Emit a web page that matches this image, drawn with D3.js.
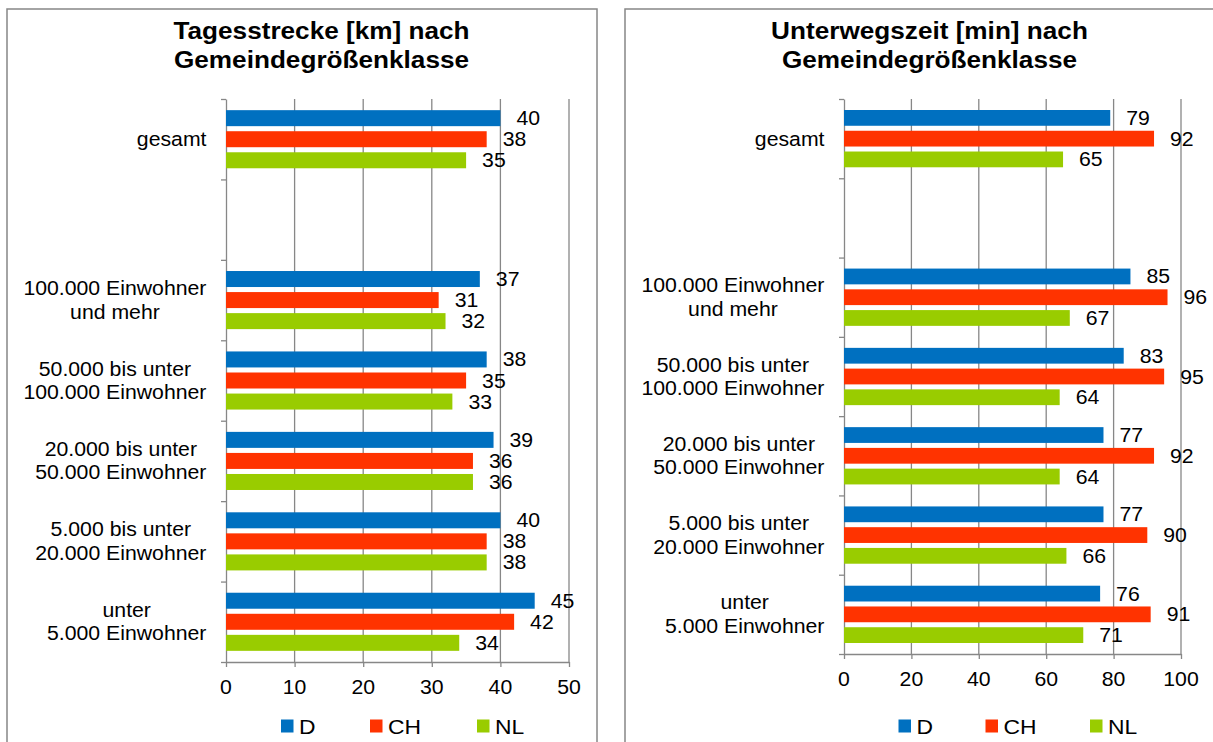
<!DOCTYPE html>
<html>
<head>
<meta charset="utf-8">
<script src="https://cdn.jsdelivr.net/npm/d3@7"></script>
<style>
  html, body { margin: 0; padding: 0; background: #fff; }
  svg { display: block; }
  text { font-family: "Liberation Sans", Arial, sans-serif; fill: #000; }
</style>
</head>
<body>
<svg id="chart" width="1213" height="742"></svg>
<script>
// Category labels (one entry per band, lines listed separately; second band is an empty spacer)
const categories = [
  ["gesamt"],
  [],
  ["100.000 Einwohner", "und mehr"],
  ["50.000 bis unter", "100.000 Einwohner"],
  ["20.000 bis unter", "50.000 Einwohner"],
  ["5.000 bis unter", "20.000 Einwohner"],
  ["unter", "5.000 Einwohner"]
];
const series = ["D", "CH", "NL"];
const seriesColors = ["#0070C0", "#FF3300", "#99CC00"];

// Tagesstrecke [km]
const kmD  = [40, null, 37, 38, 39, 40, 45];
const kmCH = [38, null, 31, 35, 36, 38, 42];
const kmNL = [35, null, 32, 33, 36, 38, 34];
const kmTicks = [0, 10, 20, 30, 40, 50];

// Unterwegszeit [min]
const minD  = [79, null, 85, 83, 77, 77, 76];
const minCH = [92, null, 96, 95, 92, 90, 91];
const minNL = [65, null, 67, 64, 64, 66, 71];
const minTicks = [0, 20, 40, 60, 80, 100];

const panels = [
  {
    frameX: 7, title: ["Tagesstrecke [km] nach", "Gemeindegrößenklasse"], titleX: 321.5,
    x0: 226, x1: 569, y0: 99, y1: 662, ticks: kmTicks, values: [kmD, kmCH, kmNL],
    legendX: [281, 370, 477], frameW: 590
  },
  {
    frameX: 625, title: ["Unterwegszeit [min] nach", "Gemeindegrößenklasse"], titleX: 929.5,
    x0: 844, x1: 1181, y0: 99, y1: 654, ticks: minTicks, values: [minD, minCH, minNL],
    legendX: [898.5, 985.5, 1090], frameW: 700
  }
];

const GRAY = "#878787";
const SX = 1.09;          // horizontal text stretch
const FONT = 19.5;

const svg = d3.select("#chart");

function place(sel, x, y) {
  return sel.attr("transform", `translate(${x},${y}) scale(${SX},1)`);
}

panels.forEach(p => {
  const g = svg.append("g");

  // frame
  g.append("rect")
    .attr("x", p.frameX).attr("y", 9)
    .attr("width", p.frameW).attr("height", 800)
    .attr("fill", "none").attr("stroke", GRAY).attr("stroke-width", 1.5);

  // title
  p.title.forEach((line, i) => {
    place(g.append("text"), p.titleX, 39 + i * 29)
      .attr("text-anchor", "middle")
      .attr("font-size", 24).attr("font-weight", "bold")
      .text(line);
  });

  const x = d3.scaleLinear().domain([p.ticks[0], p.ticks[p.ticks.length - 1]]).range([p.x0, p.x1]);
  const y = d3.scaleBand().domain(d3.range(categories.length)).range([p.y0, p.y1]);
  const yInner = d3.scaleBand().domain(series).range([0, y.bandwidth()])
    .paddingInner(0.24).paddingOuter(0.53);

  // vertical gridlines
  g.append("g").selectAll("line")
    .data(p.ticks.slice(1))
    .join("line")
    .attr("x1", d => x(d)).attr("x2", d => x(d))
    .attr("y1", p.y0).attr("y2", p.y1)
    .attr("stroke", GRAY).attr("stroke-width", 1.3);

  // bottom axis
  const xAxis = g.append("g")
    .attr("transform", `translate(0,${p.y1})`)
    .call(d3.axisBottom(x).tickValues(p.ticks).tickSize(5).tickSizeOuter(0).tickFormat(""));
  xAxis.selectAll("path, line").attr("stroke", GRAY).attr("stroke-width", 1.3);

  // tick labels
  p.ticks.forEach(t => {
    place(g.append("text"), x(t), p.y1 + 32)
      .attr("text-anchor", "middle").attr("font-size", FONT)
      .text(t);
  });

  // left axis with ticks at band edges
  const edges = d3.scaleLinear().domain([0, categories.length]).range([p.y0, p.y1]);
  const yAxis = g.append("g")
    .attr("transform", `translate(${p.x0},0)`)
    .call(d3.axisLeft(edges).ticks(categories.length).tickSize(5).tickSizeOuter(0).tickFormat(""));
  yAxis.selectAll("path, line").attr("stroke", GRAY).attr("stroke-width", 1.3);

  // category labels (multi-line labels are centred as a block that ends next to the axis)
  categories.forEach((lines, ci) => {
    if (!lines.length) return;
    const cy = y(ci) + y.bandwidth() / 2;
    const right = p.x0 - 19.5;
    const texts = lines.map((line, li) => {
      const baseline = lines.length === 1 ? cy + 7 : cy - 5 + li * 23.5;
      return g.append("text").attr("font-size", FONT).attr("text-anchor", "middle")
        .attr("data-base", baseline).text(line);
    });
    const maxW = d3.max(texts, t => t.node().getComputedTextLength()) * SX;
    texts.forEach(t => place(t, right - maxW / 2, +t.attr("data-base")));
  });

  // bars and value labels
  series.forEach((s, si) => {
    const vals = p.values[si];
    const rows = vals.map((v, ci) => ({ v, ci })).filter(d => d.v != null);
    g.append("g").selectAll("rect")
      .data(rows)
      .join("rect")
      .attr("x", x(0))
      .attr("y", d => y(d.ci) + yInner(s))
      .attr("width", d => x(d.v) - x(0))
      .attr("height", yInner.bandwidth())
      .attr("fill", seriesColors[si]);
    rows.forEach(d => {
      place(g.append("text"), x(d.v) + 16, y(d.ci) + yInner(s) + yInner.bandwidth() / 2 + 7)
        .attr("font-size", FONT)
        .text(d.v);
    });
  });

  // legend
  series.forEach((s, si) => {
    const lx = p.legendX[si];
    g.append("rect")
      .attr("x", lx).attr("y", 719.5)
      .attr("width", 12.5).attr("height", 13)
      .attr("fill", seriesColors[si]);
    place(g.append("text"), lx + 18, 734)
      .attr("font-size", 21)
      .text(s);
  });
});
</script>
</body>
</html>
